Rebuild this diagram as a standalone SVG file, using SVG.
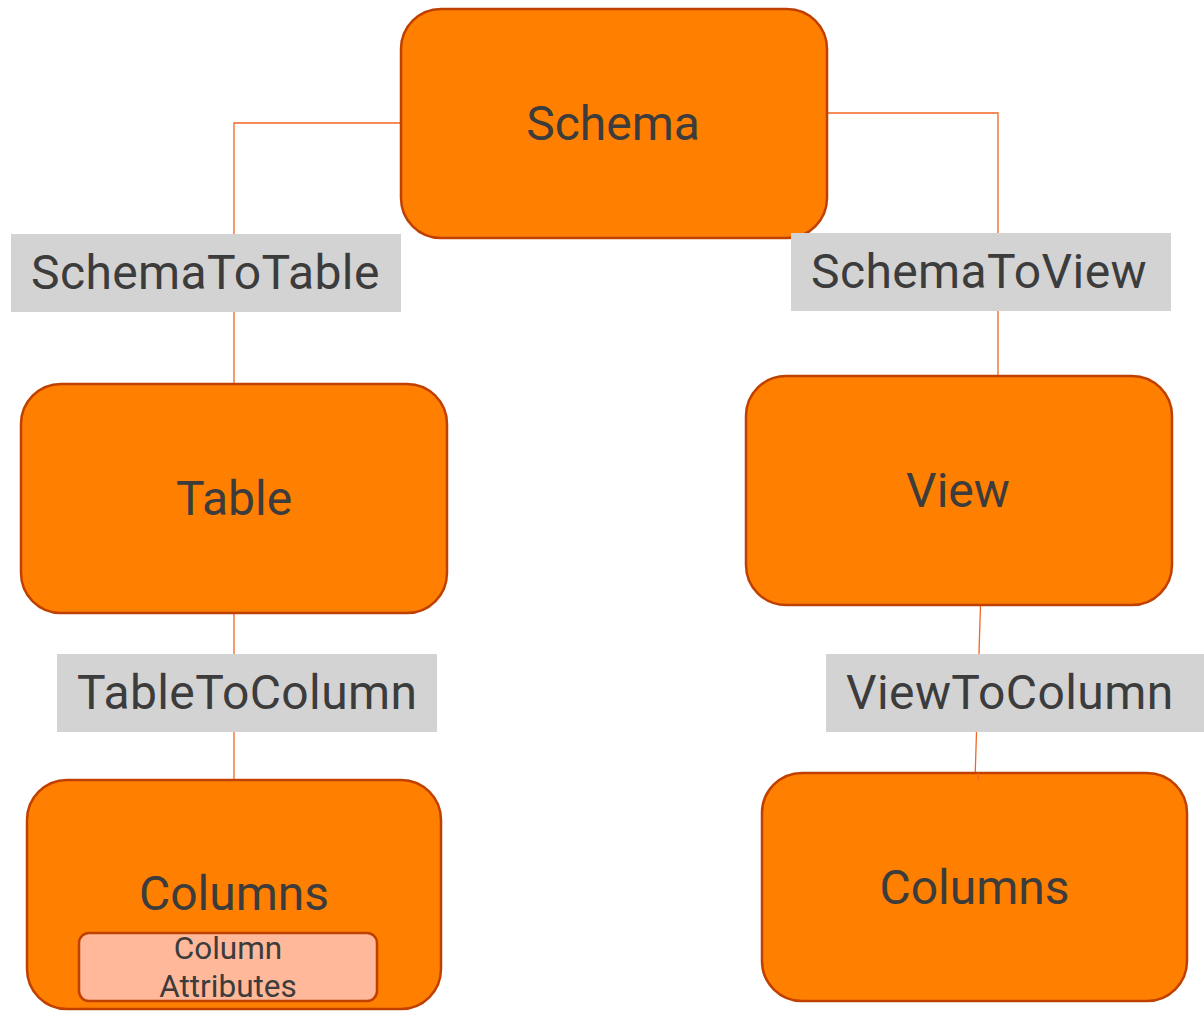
<svg xmlns="http://www.w3.org/2000/svg" width="1204" height="1017" viewBox="0 0 1204 1017">
<style>
.node{fill:#ff7f00;stroke:#c04000;stroke-width:2.5}
.sub{fill:#ffb899;stroke:#c04000;stroke-width:2.5}
.t{font-family:Roboto,"Liberation Sans",sans-serif;fill:#3c3c3c;font-size:48px}
.lt{letter-spacing:0.4px}
.ts{font-family:Roboto,"Liberation Sans",sans-serif;fill:#3c3c3c;font-size:31.5px;text-anchor:middle}
.c{text-anchor:middle}
.edge{fill:none;stroke:#f26522;stroke-width:1.3}
.lbl{fill:#d3d3d3}
</style>
<rect width="1204" height="1017" fill="#ffffff"/>
<g id="connectors">
<polyline class="edge" points="401,123 234,123 234,383"/>
<polyline class="edge" points="827,113 998,113 998,375"/>
<line class="edge" x1="234" y1="613" x2="234" y2="779"/>
<line class="edge" x1="980.5" y1="605" x2="975" y2="780"/>
</g>
<g id="schema"><rect class="node" x="401" y="9" width="426" height="229" rx="40"/><text class="t c" x="613" y="140">Schema</text></g>
<g id="table"><rect class="node" x="21" y="384" width="426" height="229" rx="40"/><text class="t c" x="234" y="515">Table</text></g>
<g id="view"><rect class="node" x="746" y="376" width="426" height="229" rx="40"/><text class="t c" x="958" y="507">View</text></g>
<g id="columns-left"><rect class="node" x="27" y="780" width="414" height="229" rx="40"/><text class="t c" x="234" y="910">Columns</text>
<g id="column-attributes"><rect class="sub" x="79" y="933" width="298" height="68" rx="10"/><text class="ts" x="228" y="959">Column</text><text class="ts" x="228" y="997">Attributes</text></g></g>
<g id="columns-right"><rect class="node" x="762" y="773" width="425" height="228" rx="40"/><text class="t c" x="974.5" y="904">Columns</text></g>
<g id="edge-labels">
<line class="edge" x1="978.5" y1="773" x2="978.3" y2="780"/>
<rect class="lbl" x="11" y="234" width="390" height="78"/><text class="t lt" x="31" y="289">SchemaToTable</text>
<rect class="lbl" x="791" y="233" width="380" height="78"/><text class="t lt" x="811" y="288">SchemaToView</text>
<rect class="lbl" x="57" y="654" width="380" height="78"/><text class="t lt" x="77" y="709">TableToColumn</text>
<rect class="lbl" x="826" y="654" width="378" height="78"/><text class="t lt" x="846" y="709">ViewToColumn</text>
</g>
</svg>
